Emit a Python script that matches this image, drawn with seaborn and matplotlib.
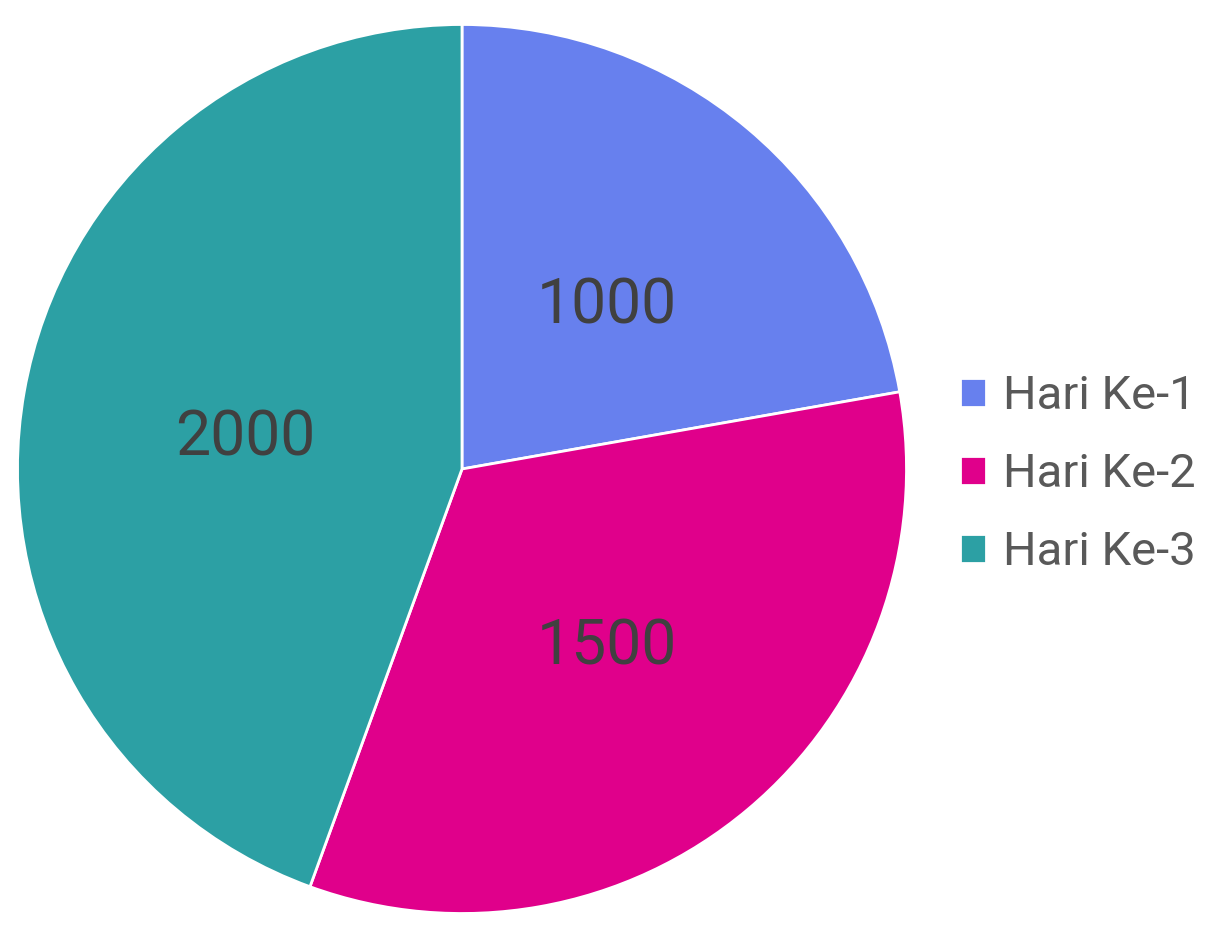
import matplotlib
matplotlib.use("Agg")
import matplotlib.pyplot as plt
import matplotlib.transforms as mtransforms
import seaborn as sns

labels = ["Hari Ke-1", "Hari Ke-2", "Hari Ke-3"]
values = [1000, 1500, 2000]
colors = ["#6780EE", "#E0008B", "#2CA0A4"]

sns.set_theme(style="white")
plt.rcParams['font.family'] = ['Roboto', 'DejaVu Sans']
palette = sns.color_palette(colors)

fig = plt.figure(figsize=(12.16, 9.36), dpi=100)
cx, cy, r = 462, 469, 444.5
ax = fig.add_axes([(cx - r) / 1216, (936 - cy - r) / 936, 2 * r / 1216, 2 * r / 936])

wedges, texts = ax.pie(values, colors=palette, startangle=90, counterclock=False,
                       labels=[str(v) for v in values], labeldistance=0.5,
                       wedgeprops=dict(edgecolor='white', linewidth=2),
                       textprops=dict(fontsize=45, color='#404040', ha='center', va='center'))
# nudge labels down a bit to sit like the original
shift = mtransforms.offset_copy(ax.transData, fig=fig, x=2, y=-8, units='dots')
for t in texts:
    t.set_transform(shift)
ax.set_xlim(-1, 1)
ax.set_ylim(-1, 1)
ax.set_aspect('equal')
ax.axis('off')

fig.legend(wedges, labels, loc='center left', bbox_to_anchor=(960 / 1216, 1 - 474 / 936),
           frameon=False, fontsize=34, labelcolor='#595959', borderpad=0, borderaxespad=0,
           handlelength=0.55, handleheight=0.55, handletextpad=0.36, labelspacing=0.72)

fig.savefig("out.png", dpi=100)
